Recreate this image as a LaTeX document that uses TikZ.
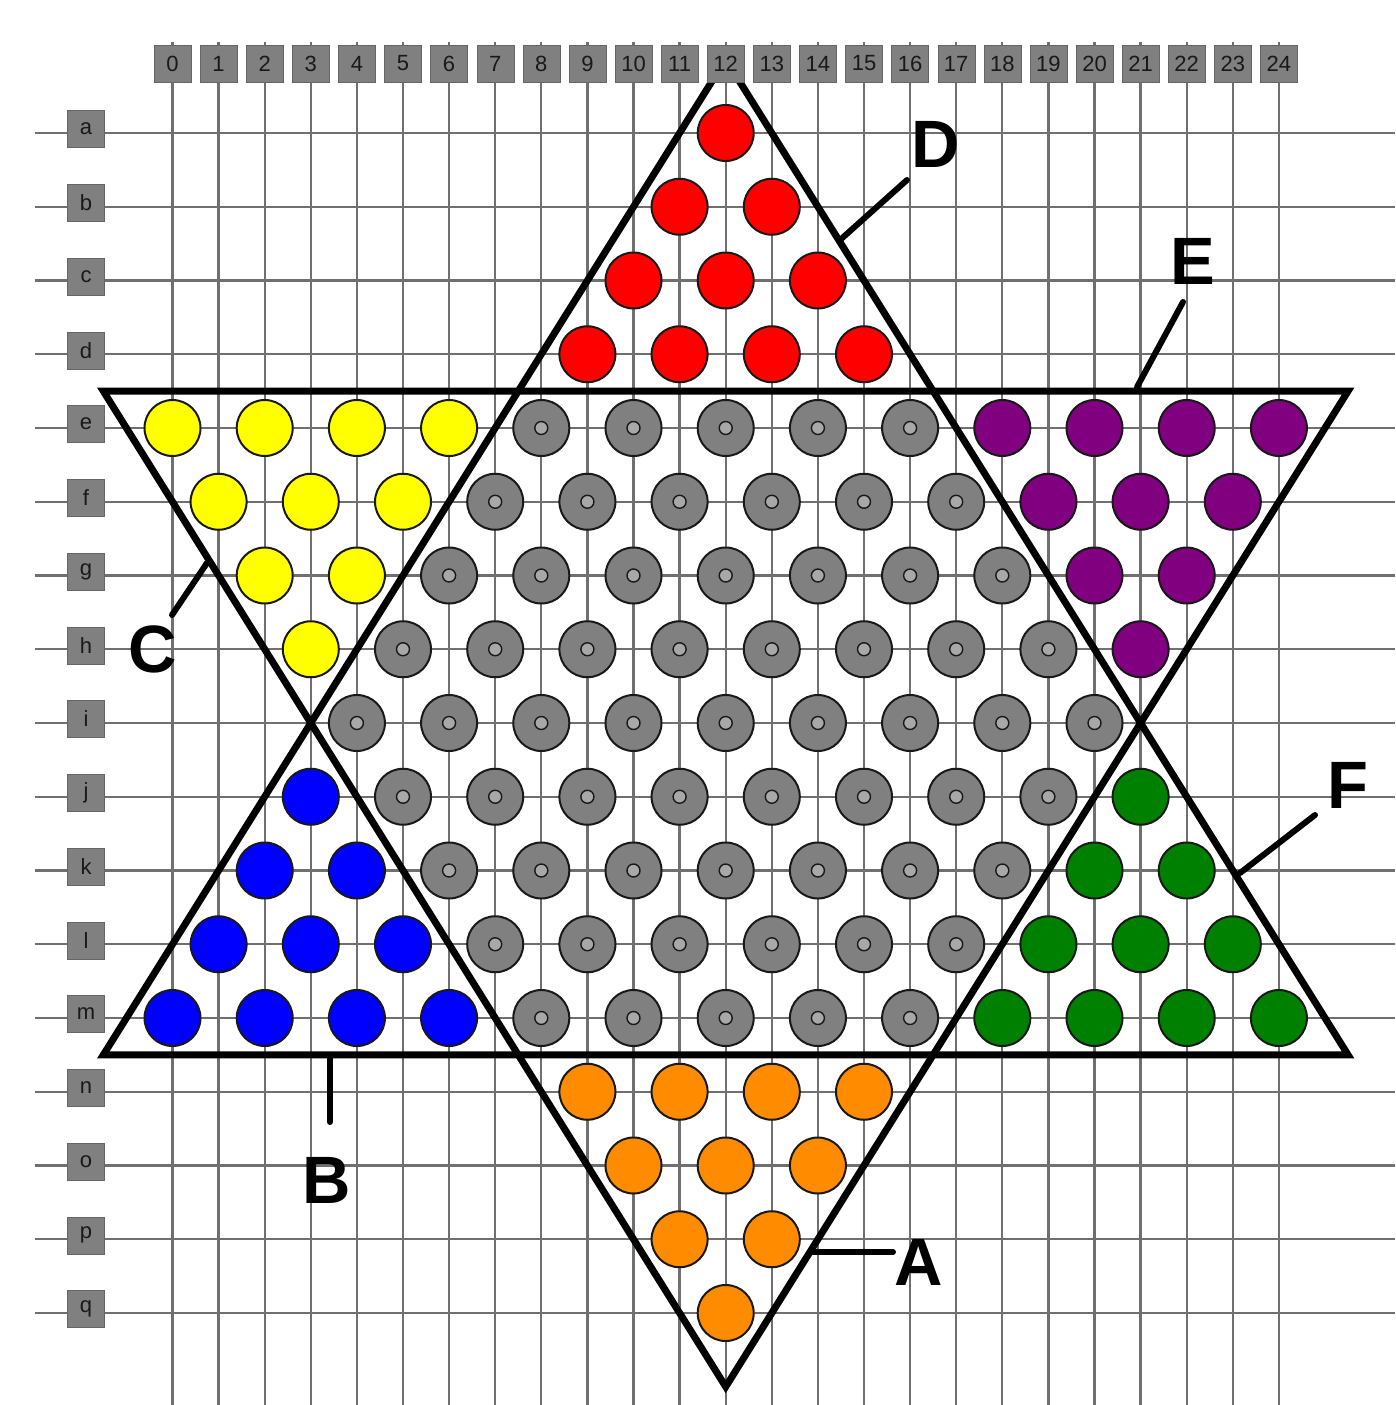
\documentclass[tikz,border=0pt]{standalone}
\usepackage{fontspec}
\setmainfont{Liberation Sans}
\usetikzlibrary{positioning}
\definecolor{pegred}{HTML}{FF0000}
\definecolor{pegyellow}{HTML}{FFFF00}
\definecolor{pegpurple}{HTML}{800080}
\definecolor{pegblue}{HTML}{0000FF}
\definecolor{peggreen}{HTML}{008000}
\definecolor{pegorange}{HTML}{FF8C00}
\definecolor{boardgray}{HTML}{808080}
\definecolor{linegray}{HTML}{707070}
\definecolor{holegray}{HTML}{A8A8A8}

\begin{document}
\begin{tikzpicture}[
  x=1pt, y=-1pt,
  gridline/.style={draw=linegray, line width=2.3pt},
  starline/.style={draw=black, line width=7pt},
  lbl/.style={draw=black!60, fill=boardgray, minimum size=37pt, inner sep=0pt, font=\fontsize{22}{22}\selectfont, text=black!90},
  peg/.style={circle, draw=black!90, line width=2pt, minimum size=56pt, inner sep=0pt},
  hole/.style={peg, fill=boardgray},
  dot/.style={circle, draw=black!90, line width=1.4pt, fill=holegray, minimum size=13pt, inner sep=0pt},
  tag/.style={font=\bfseries\fontsize{67}{67}\selectfont, inner sep=0pt},
  leader/.style={line width=6pt, line cap=round}
]
\useasboundingbox (0,0) rectangle (1395,1405);

\begin{scope}[shift={(172.5,133)}, x=46.1pt, y=-73.75pt]
% board lines
\foreach \c in {0,...,24} \draw[gridline] (\c,-1.234) -- (\c,17.25);
\foreach \r in {0,...,16} \draw[gridline] (-2.983,\r) -- (26.52,\r);

% star
\draw[starline] (12,-1) -- (-1.5,12.5) -- (25.5,12.5) -- cycle;
\draw[starline] (12,17) -- (-1.5,3.5) -- (25.5,3.5) -- cycle;

% coloured pegs (row/column)
\foreach \clr/\cells in {
  pegred/{0/12,1/11,1/13,2/10,2/12,2/14,3/9,3/11,3/13,3/15},
  pegorange/{13/9,13/11,13/13,13/15,14/10,14/12,14/14,15/11,15/13,16/12},
  pegyellow/{4/0,4/2,4/4,4/6,5/1,5/3,5/5,6/2,6/4,7/3},
  pegpurple/{4/18,4/20,4/22,4/24,5/19,5/21,5/23,6/20,6/22,7/21},
  pegblue/{9/3,10/2,10/4,11/1,11/3,11/5,12/0,12/2,12/4,12/6},
  peggreen/{9/21,10/20,10/22,11/19,11/21,11/23,12/18,12/20,12/22,12/24}}
  \foreach \r/\c in \cells
    \node[peg, fill=\clr] (p\r-\c) at (\c,\r) {};

% empty holes in the middle
\foreach \r in {4,...,12} {
  \pgfmathtruncatemacro\first{abs(\r-8)+4}
  \pgfmathtruncatemacro\second{\first+2}
  \pgfmathtruncatemacro\last{24-\first}
  \foreach \c in {\first,\second,...,\last} {
    \node[hole] (h\r-\c) at (\c,\r) {};
    \node[dot] at (h\r-\c) {};
  }
}

% labels
\foreach \c in {0,...,24} \node[lbl] (c\c) at (\c,-0.942) {\c};
\foreach \l [count=\r from 0] in {a,...,q} \node[lbl, yshift=4pt] (r\l) at (-1.876,\r) {\l};
\end{scope}

% corner names
\node[tag] (tagA) at (919,1262) {A};
\node[tag] (tagB) at (327,1180) {B};
\node[tag] (tagC) at (153,649) {C};
\node[tag] (tagD) at (936,144) {D};
\node[tag] (tagE) at (1193,261) {E};
\node[tag] (tagF) at (1348,785) {F};

\coordinate (fromA) at (812,1252); \coordinate (toA) at (893,1252);
\coordinate (fromB) at (330,1057); \coordinate (toB) at (330,1122);
\coordinate (fromC) at (207,563);  \coordinate (toC) at (172,615);
\coordinate (fromD) at (840,240);  \coordinate (toD) at (907,180);
\coordinate (fromE) at (1137,387); \coordinate (toE) at (1183,302);
\coordinate (fromF) at (1240,873); \coordinate (toF) at (1315,815);

\foreach \t in {A,...,F} \draw[leader] (from\t) -- (to\t);
\end{tikzpicture}
\end{document}
